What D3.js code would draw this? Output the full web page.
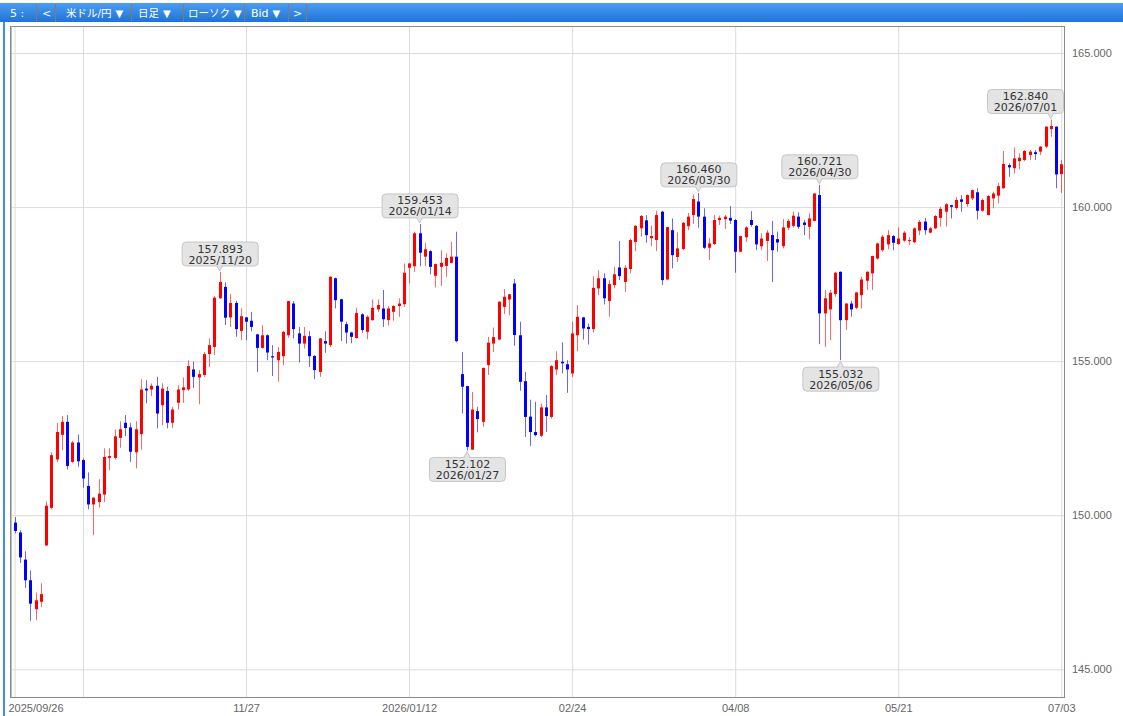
<!DOCTYPE html>
<html>
<head>
<meta charset="utf-8">
<script src="https://cdn.jsdelivr.net/npm/d3@7"></script>
<style>
  body { margin: 0; background: #fff; }
  svg { display: block; font-family: "DejaVu Sans", Verdana, sans-serif; }
</style>
</head>
<body>
<svg id="chart" width="1123" height="716"></svg>
<script>
// USD/JPY daily candles, 2025/09/26 - 2026/07/03 (weekdays, New Year's Day closed)
const holidays = ['2026-01-01'];
const dates = (() => {
  const out = [];
  const fmt = d3.utcFormat('%Y-%m-%d');
  for (let d = new Date(Date.UTC(2025, 8, 26)); d <= new Date(Date.UTC(2026, 6, 3)); d = d3.utcDay.offset(d, 1)) {
    const wd = d.getUTCDay();
    if (wd === 0 || wd === 6) continue;
    if (holidays.includes(fmt(d))) continue;
    out.push(fmt(d));
  }
  return out;
})();

const open = [
  149.76,149.44,148.56,147.89,146.95,147.19,149.02,150.24,151.81,152.61,
  153.03,151.73,152.36,151.79,150.95,150.35,150.43,150.67,151.86,151.86,
  152.51,153.00,152.85,152.04,152.63,154.11,154.08,154.20,153.57,154.03,
  153.00,153.65,154.06,154.08,154.73,154.47,154.55,155.23,155.46,157.04,
  157.41,156.42,156.89,155.98,156.42,156.31,155.87,155.43,155.84,155.16,
  155.03,155.16,155.84,156.87,155.90,155.57,155.81,155.17,154.65,155.65,
  155.52,157.69,157.01,156.20,155.93,155.75,156.52,155.95,156.33,156.68,
  156.71,156.33,156.60,156.79,156.85,158.03,158.08,159.15,158.39,158.57,
  157.77,158.06,158.09,158.19,158.39,154.58,154.19,152.13,153.38,153.03,
  154.87,155.57,155.70,156.76,157.00,157.52,155.84,154.35,153.20,152.70,
  152.58,153.50,153.19,154.73,154.98,154.90,154.60,155.84,156.42,156.11,
  156.04,157.36,157.69,156.95,157.47,158.04,157.57,157.99,158.87,159.31,
  159.57,158.99,158.93,159.85,157.65,159.25,158.38,158.64,159.38,159.74,
  160.18,159.69,158.68,158.80,159.58,159.61,159.65,159.58,158.55,159.02,
  159.58,159.39,158.73,158.90,159.09,158.96,158.73,159.33,159.39,159.69,
  159.50,159.36,159.55,160.39,156.55,156.68,157.18,157.90,156.33,156.87,
  156.73,157.14,157.61,157.85,158.33,158.60,158.79,159.06,158.80,158.91,
  158.90,158.86,159.24,159.53,159.17,159.31,159.65,159.85,160.06,159.97,
  160.25,160.10,160.28,160.48,159.88,159.74,160.28,160.37,160.61,161.36,
  161.26,161.49,161.53,161.69,161.78,161.80,161.96,162.53,162.61,161.07
];
const high = [
  149.94,149.51,148.83,148.21,147.49,147.79,150.45,152.04,153.00,153.22,
  153.25,152.41,152.62,151.84,151.39,150.58,151.17,152.17,152.17,152.78,
  153.05,153.25,153.00,153.05,154.41,154.38,154.28,154.49,154.28,154.17,
  153.52,154.22,154.47,155.03,154.98,154.71,155.30,155.74,157.11,157.893,
  157.56,157.18,156.96,156.71,156.43,156.60,155.88,156.17,155.87,155.52,
  155.46,155.98,156.96,156.95,156.11,156.11,155.97,155.19,155.75,155.97,
  157.75,157.71,157.02,156.28,155.95,156.74,156.55,156.49,157.00,157.00,
  157.31,156.79,156.82,157.04,158.17,158.18,159.20,159.453,158.84,158.60,
  158.17,158.60,158.50,158.87,159.20,155.30,154.20,154.00,153.52,154.79,
  155.79,156.09,156.94,157.34,157.18,157.67,156.28,154.65,153.75,153.68,
  153.63,153.90,154.87,155.32,155.61,155.03,156.28,156.82,156.44,156.22,
  157.76,157.95,157.85,157.63,158.06,158.90,158.12,158.98,159.42,159.74,
  159.74,159.40,159.88,159.88,159.36,159.63,159.18,159.52,159.81,160.41,
  160.46,159.96,158.99,159.74,159.72,159.74,160.03,159.61,159.07,159.38,
  159.87,159.42,159.15,159.25,159.55,159.20,159.61,159.61,159.85,159.83,
  159.58,159.80,160.45,160.721,157.31,157.31,157.90,157.91,156.88,156.96,
  157.25,157.74,157.92,158.42,158.84,159.09,159.25,159.09,159.34,159.22,
  159.02,159.34,159.58,159.65,159.36,159.74,160.01,160.13,160.07,160.33,
  160.39,160.41,160.57,160.61,160.28,160.39,160.50,160.79,161.82,161.42,
  161.93,161.74,161.85,161.85,161.85,161.98,162.62,162.84,162.62,161.53
];
const low = [
  149.41,148.45,147.64,146.57,146.59,147.02,149.00,150.19,151.73,152.11,
  151.49,151.70,151.57,150.89,150.19,149.35,150.25,150.43,151.46,151.81,
  152.19,152.56,151.73,151.52,152.13,153.63,153.87,152.82,152.92,152.82,
  152.82,153.43,153.65,154.04,154.13,153.60,154.49,154.81,155.19,157.02,
  156.17,156.11,155.79,155.68,155.68,155.97,154.65,155.41,155.03,154.52,
  154.33,154.87,155.76,155.74,154.96,155.41,154.81,154.41,154.49,155.27,
  155.46,156.71,155.65,155.57,155.58,155.74,155.92,155.71,156.31,156.60,
  156.11,156.15,156.31,156.44,156.76,157.52,157.90,158.08,158.08,157.82,
  157.39,157.44,157.74,158.17,155.61,153.30,152.102,152.12,152.69,152.87,
  154.55,155.30,155.68,156.53,156.49,155.50,154.04,152.54,152.25,152.56,
  152.54,152.70,153.14,154.55,154.60,153.97,154.49,155.32,155.70,155.54,
  155.93,157.14,156.84,156.44,157.36,157.63,157.25,157.85,158.57,159.04,
  158.84,158.73,158.57,157.47,157.63,158.01,158.22,158.60,159.25,159.45,
  159.33,158.64,158.28,158.77,159.42,159.29,159.45,157.87,158.54,158.87,
  159.36,158.60,158.60,158.25,157.57,158.55,158.66,159.25,159.33,159.29,
  159.09,158.95,159.54,155.55,155.46,155.68,157.09,155.032,156.01,156.44,
  156.69,156.71,157.31,157.31,158.30,158.55,158.63,158.60,158.77,158.87,
  158.77,158.82,159.09,159.10,159.15,159.28,159.36,159.37,159.63,159.91,
  159.85,160.01,160.23,159.60,159.85,159.73,159.96,160.12,160.60,160.98,
  161.09,161.22,161.49,161.53,161.53,161.69,161.91,162.28,160.61,160.46
];
const close = [
  149.49,148.63,147.89,147.13,147.24,147.44,150.31,151.95,152.70,153.03,
  151.60,152.36,151.75,151.19,150.35,150.57,150.70,151.89,151.92,152.56,
  152.79,152.83,152.06,152.79,154.08,154.05,154.20,153.30,154.11,153.00,
  153.43,154.08,154.15,154.84,154.49,154.58,155.23,155.52,157.06,157.57,
  156.41,156.89,156.04,156.46,156.28,156.11,155.43,155.84,155.28,155.12,
  155.30,155.95,156.95,156.04,155.57,155.82,155.16,154.71,155.74,155.57,
  157.74,156.98,156.28,155.93,155.79,156.56,156.01,156.44,156.73,156.82,
  156.36,156.71,156.79,156.87,157.87,158.17,159.15,158.52,158.63,158.06,
  158.15,158.19,158.35,158.39,155.65,154.17,152.22,153.43,153.12,154.78,
  155.60,155.78,156.93,157.09,157.17,155.85,154.33,153.19,152.70,152.60,
  153.50,153.22,154.84,155.03,154.93,154.73,155.90,156.44,156.06,156.04,
  157.38,157.69,157.04,157.50,157.82,157.76,158.03,158.93,159.39,159.71,
  159.09,159.06,159.74,157.63,159.35,158.44,158.66,159.49,159.69,160.26,
  159.69,158.68,158.82,159.58,159.65,159.69,159.56,158.55,159.06,159.34,
  159.42,158.79,158.98,159.17,158.60,158.85,159.34,159.55,159.72,159.36,
  159.42,159.63,160.44,156.55,157.04,157.22,157.87,156.33,156.87,156.68,
  157.23,157.65,157.90,158.41,158.82,159.04,159.09,158.84,158.98,159.17,
  158.93,159.31,159.52,159.25,159.31,159.71,159.94,160.09,160.01,160.23,
  160.17,160.39,160.55,159.88,160.23,160.36,160.44,160.68,161.40,161.29,
  161.58,161.60,161.82,161.80,161.72,161.96,162.61,162.63,161.06,161.39
];

const yTicks = [145, 150, 155, 160, 165];
const xTickDates = ['2025-09-26', '2025-10-15', '2025-11-27', '2026-01-12', '2026-02-24', '2026-04-08', '2026-05-21', '2026-07-03'];
const xTickLabels = ['2025/09/26', '', '11/27', '2026/01/12', '02/24', '04/08', '05/21', '07/03'];
const highNoteDates = ['2025-11-20', '2026-01-14', '2026-03-30', '2026-04-30', '2026-07-01'];
const lowNoteDates = ['2026-01-27', '2026-05-06'];
const toolLabels = ['5 :', '<', '米ドル/円', '日足', 'ローソク', 'Bid', '>'];
const toolMenus = [false, false, true, true, true, true, false];

const rows = dates.map((d, i) => ({ date: d, o: open[i], h: high[i], l: low[i], c: close[i] }));

const svg = d3.select('#chart');
const W = 1123, H = 716;
const plot = { left: 10, right: 1064, top: 26, bottom: 697 };

// toolbar
const grad = svg.append('defs').append('linearGradient')
    .attr('id', 'bar').attr('x1', 0).attr('y1', 0).attr('x2', 0).attr('y2', 1);
grad.append('stop').attr('offset', 0).attr('stop-color', '#4b9cf2');
grad.append('stop').attr('offset', 1).attr('stop-color', '#1f73d8');
svg.append('rect').attr('x', 0).attr('y', 3).attr('width', W).attr('height', 19).attr('fill', 'url(#bar)');
svg.append('rect').attr('x', 3).attr('y', 22).attr('width', 2).attr('height', H - 22).attr('fill', '#3d8de9');

const toolX = [10, 42, 66, 138, 188, 251, 293];
const sepX = [36, 55, 131, 183, 244, 288, 306];
svg.append('g').selectAll('line').data(sepX).join('line')
    .attr('x1', d => d + 0.5).attr('x2', d => d + 0.5)
    .attr('y1', 4).attr('y2', 22)
    .style('stroke', '#857b66');
const tools = svg.append('g').selectAll('text').data(toolLabels).join('text')
    .attr('x', (d, i) => toolX[i])
    .attr('y', 17)
    .style('font-family', '"DejaVu Sans", "Noto Sans CJK JP", sans-serif')
    .style('font-size', '11px')
    .style('fill', '#fff');
tools.append('tspan')
    .style('font-size', d => /[^\x00-\x7f]/.test(d) ? '10.5px' : '11px')
    .text(d => d);
tools.filter((d, i) => toolMenus[i]).append('tspan')
    .attr('dx', 4)
    .style('font-size', '10px')
    .text('▼');

// scales
const xScale = d3.scalePoint()
    .domain(dates)
    .range([14.6, 1061.3]);
const yScale = d3.scaleLinear()
    .domain([145, 165])
    .range([669.3, 53]);

// frame background
svg.append('rect')
    .attr('x', plot.left + 0.5).attr('y', plot.top + 0.5)
    .attr('width', plot.right - plot.left).attr('height', plot.bottom - plot.top)
    .style('fill', '#fff');

// axes with gridlines
const yAxis = d3.axisRight(yScale)
    .tickValues(yTicks)
    .tickFormat(d3.format('.3f'))
    .tickSize(-(plot.right - plot.left))
    .tickPadding(8);
const yG = svg.append('g')
    .attr('transform', `translate(${plot.right}, 0)`)
    .call(yAxis);
yG.select('.domain').remove();
yG.selectAll('line').style('stroke', '#dcdcdc');
yG.selectAll('text').style('font-size', '11px').style('fill', '#666').attr('font-family', null);

const xAxis = d3.axisBottom(xScale)
    .tickValues(xTickDates)
    .tickFormat((d, i) => xTickLabels[i])
    .tickSize(-(plot.bottom - plot.top))
    .tickPadding(7);
const xG = svg.append('g')
    .attr('transform', `translate(0, ${plot.bottom})`)
    .call(xAxis);
xG.select('.domain').remove();
xG.selectAll('line').style('stroke', '#dcdcdc');
xG.selectAll('text').style('font-size', '11px').style('fill', '#666').attr('font-family', null);
xG.select('.tick text').attr('text-anchor', 'start').attr('x', 8 - xScale(xTickDates[0]));

// frame line on top of grid (left edge doubled like the original)
svg.append('rect')
    .attr('x', plot.left + 0.5).attr('y', plot.top + 0.5)
    .attr('width', plot.right - plot.left).attr('height', plot.bottom - plot.top)
    .style('fill', 'none').style('stroke', '#8a8a8a');
svg.append('line')
    .attr('x1', plot.left + 1.5).attr('x2', plot.left + 1.5)
    .attr('y1', plot.top).attr('y2', plot.bottom)
    .style('stroke', '#bdbdbd');

// candles
const colour = d => d.c >= d.o ? '#ff0000' : '#0000ff';
const candles = svg.append('g')
    .selectAll('g.candle')
    .data(rows)
    .join('g')
    .attr('class', 'candle');
candles.append('line')
    .attr('x1', d => Math.round(xScale(d.date)) + 0.5)
    .attr('x2', d => Math.round(xScale(d.date)) + 0.5)
    .attr('y1', d => yScale(d.h))
    .attr('y2', d => yScale(d.l))
    .style('stroke', colour)
    .style('stroke-opacity', 0.6);
candles.append('rect')
    .attr('x', d => Math.round(xScale(d.date)) - 1)
    .attr('width', 3)
    .attr('y', d => yScale(Math.max(d.o, d.c)))
    .attr('height', d => Math.max(1, Math.abs(yScale(d.o) - yScale(d.c))))
    .style('fill', colour);

// callouts
const fmtDate = d => d.replace(/-/g, '/');
const boxW = 76, boxH = 24;
function callout(date, value, above) {
  const cx = xScale(date);
  const yv = yScale(value);
  const bx = Math.max(plot.left + 2, Math.min(cx - boxW / 2, plot.right - boxW - 1));
  const tip = above ? yv - 1 : yv + 1;
  const by = above ? yv - 6.5 - boxH : yv + 6.5;
  const g = svg.append('g').attr('class', 'note');
  const edge = above ? by + boxH : by;
  g.append('path')
      .attr('d', `M${cx - 3},${edge} L${cx},${tip} L${cx + 3},${edge} Z`)
      .style('fill', '#dedede').style('stroke', '#c6c6c6');
  g.append('rect')
      .attr('x', bx + 0.5).attr('y', by + 0.5)
      .attr('width', boxW).attr('height', boxH)
      .attr('rx', 4)
      .style('fill', '#e4e4e4').style('stroke', '#c6c6c6');
  g.append('path')
      .attr('d', `M${cx - 2.5},${edge + (above ? -0.5 : 1.5)} L${cx},${tip + (above ? -1 : 1)} L${cx + 2.5},${edge + (above ? -0.5 : 1.5)} Z`)
      .style('fill', '#e4e4e4');
  g.append('text')
      .attr('x', bx + boxW / 2 + 0.5).attr('y', by + 11)
      .attr('text-anchor', 'middle')
      .style('font-size', '11px').style('fill', '#333')
      .text(d3.format('.3f')(value));
  g.append('text')
      .attr('x', bx + boxW / 2 + 0.5).attr('y', by + 22)
      .attr('text-anchor', 'middle')
      .style('font-size', '11px').style('fill', '#333')
      .text(fmtDate(date));
}
highNoteDates.forEach(d => callout(d, high[dates.indexOf(d)], true));
lowNoteDates.forEach(d => callout(d, low[dates.indexOf(d)], false));
</script>
</body>
</html>
